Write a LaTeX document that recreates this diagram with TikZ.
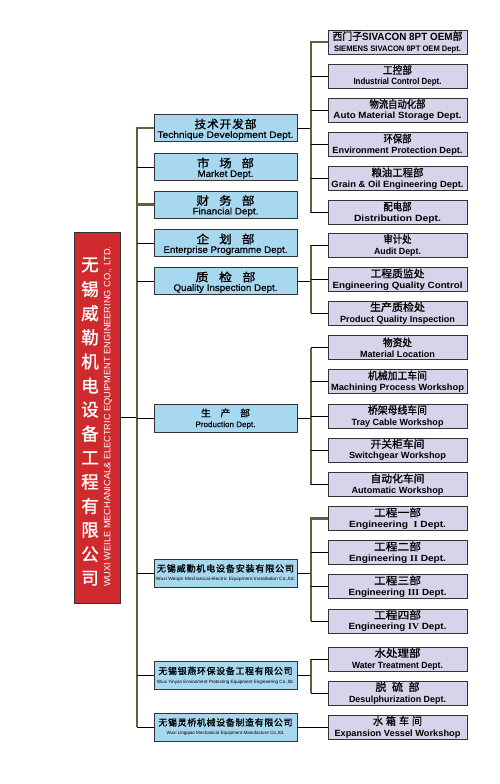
\documentclass[tikz,border=0pt]{standalone}
\usepackage{fontspec}
\usepackage{graphicx}
\setmainfont{Liberation Sans}
\newfontfamily\cjk[FakeBold=1.2]{Noto Sans CJK SC}
\newfontfamily\cjkw[FakeBold=1.2,LetterSpace=8]{Noto Sans CJK SC}
\newfontfamily\enm[FakeBold=0.6]{Liberation Sans}
\newfontfamily\rmn{Liberation Serif}
\definecolor{bluefill}{HTML}{A8D8F0}
\definecolor{lavfill}{HTML}{D7D3EA}
\definecolor{redfill}{HTML}{CF2A2E}
\definecolor{olivec}{HTML}{5B6240}
\definecolor{edgec}{HTML}{333333}
% size, width, text
\newcommand\cnx[3]{\resizebox{#2pt}{\height}{\fontsize{#1}{#1}\selectfont\cjk #3}}
\newcommand\cnw[3]{\resizebox{#2pt}{\height}{\fontsize{#1}{#1}\selectfont\cjkw #3}}
\newcommand\enx[3]{\resizebox{#2pt}{\height}{\fontsize{#1}{#1}\selectfont #3}}
\newcommand\enmx[3]{\resizebox{#2pt}{\height}{\fontsize{#1}{#1}\selectfont\enm #3}}
\newcommand\enb[3]{\resizebox{#2pt}{\height}{\fontsize{#1}{#1}\selectfont\bfseries #3}}
\newcommand\rb[4]{\cnx{10.5}{#1}{#2}\\\enb{9}{#3}{#4}}
\newcommand\mb[4]{\rule{0pt}{12.3pt}\cnw{11.5}{#1}{#2}\\\enmx{9.5}{#3}{#4}}
\begin{document}
\begin{tikzpicture}[x=1pt,y=-1pt,
  mbox/.style={draw=edgec, line width=0.9pt, fill=bluefill, minimum width=143pt,
    minimum height=27pt, inner sep=0pt, align=center, font=\fontsize{9.5}{9.5}\selectfont},
  cbox/.style={mbox, minimum height=28pt, font=\fontsize{6}{9}\selectfont},
  pbox/.style={mbox, minimum height=28pt, font=\fontsize{8}{10.5}\selectfont},
  rbox/.style={draw=edgec, line width=0.9pt, fill=lavfill, minimum width=139pt,
    minimum height=24pt, inner sep=0pt, align=center, font=\fontsize{9}{11}\selectfont},
  redbox/.style={draw=edgec, line width=0.9pt, fill=redfill, minimum width=46pt,
    minimum height=371pt, inner sep=0pt},
  vch/.style={text=white, inner sep=0pt, font=\fontsize{17.5}{18}\selectfont\cjk},
  ven/.style={text=white, inner sep=0pt, font=\fontsize{9.2}{10}\selectfont},
  bus/.style={draw=olivec, line width=2.2pt},
  link/.style={draw=black, line width=0.8pt}]
\useasboundingbox (0,0) rectangle (500,784);

% company block
\node[redbox] (co) at (97,417.5) {};
\foreach \c [count=\i] in {无,锡,威,勒,机,电,设,备,工,程,有,限,公,司}
  \node[vch] (t\i) at (90,{265+(\i-1)*24.1}) {\c};
\node[ven, rotate=90] (tname) at (108,416.7)
  {\resizebox{340pt}{\height}{WUXI WEILE MECHANICAL\& ELECTRIC EQUIPMENT ENGINEERING CO., LTD.}};

% middle column
\node[mbox] (m1) at (225.5,128) {\mb{62}{技术开发部}{136}{Technique Development Dept.}};
\node[mbox] (m2) at (225.5,167) {\mb{57}{市\hspace{0.8em}场\hspace{0.8em}部}{56}{Market Dept.}};
\node[mbox] (m3) at (225.5,204.5) {\mb{58}{财\hspace{0.8em}务\hspace{0.8em}部}{66}{Financial Dept.}};
\node[mbox] (m4) at (225.5,243) {\mb{58}{企\hspace{0.8em}划\hspace{0.8em}部}{124}{Enterprise Programme Dept.}};
\node[mbox] (m5) at (225.5,281) {\mb{60}{质\hspace{0.8em}检\hspace{0.8em}部}{104}{Quality Inspection Dept.}};
\node[pbox] (prod) at (225.5,418) {\rule{0pt}{9.4pt}\cnx{9.5}{49}{生\hspace{1em}产\hspace{1em}部}\\\enmx{8}{60}{Production Dept.}};
\node[cbox] (c1) at (225.5,573) {\cnw{9}{137}{无锡威勤机电设备安装有限公司}\\\enx{4.6}{139}{Wuxi Weiqin Mechanical-electric Equipment Installation Co.,ltd.}};
\node[cbox] (c2) at (225.5,675.5) {\cnw{9}{134}{无锡银燕环保设备工程有限公司}\\\enx{4.6}{137}{Wuxi Yinyan Envionment Protecting Equipment Engineering Co.,ltd.}};
\node[cbox] (c3) at (225.5,727) {\cnw{9}{134}{无锡灵桥机械设备制造有限公司}\\\enx{4.6}{118}{Wuxi Lingqiao Mechanical Equipment Manufacture Co.,ltd.}};

% right column
\node[rbox] (r1) at (397.5,42) {\resizebox{130pt}{\height}{\fontsize{10.5}{10.5}\selectfont{\cjk 西门子}\textbf{SIVACON 8PT OEM}{\cjk 部}}\\\enb{8}{127}{SIEMENS SIVACON 8PT OEM Dept.}};
\node[rbox] (r2) at (397.5,76) {\rb{29}{工控部}{88}{Industrial Control Dept.}};
\node[rbox] (r3) at (397.5,110) {\rb{56}{物流自动化部}{128}{Auto Material Storage Dept.}};
\node[rbox] (r4) at (397.5,144.5) {\rb{28}{环保部}{130}{Environment Protection Dept.}};
\node[rbox] (r5) at (397.5,178.5) {\rb{52}{粮油工程部}{132}{Grain \& Oil Engineering Dept.}};
\node[rbox] (r6) at (397.5,212.5) {\rb{28}{配电部}{87}{Distribution Dept.}};
\node[rbox] (q1) at (397.5,245) {\rb{28}{审计处}{47}{Audit Dept.}};
\node[rbox] (q2) at (397.5,279.5) {\rb{54}{工程质监处}{130}{Engineering Quality Control}};
\node[rbox] (q3) at (397.5,313) {\rb{55}{生产质检处}{115}{Product Quality Inspection}};
\node[rbox] (p1) at (397.5,347.5) {\rb{29}{物资处}{75}{Material Location}};
\node[rbox] (p2) at (397.5,381.5) {\rb{59}{机械加工车间}{133}{Machining Process Workshop}};
\node[rbox] (p3) at (397.5,416) {\rb{59}{桥架母线车间}{92}{Tray Cable Workshop}};
\node[rbox] (p4) at (397.5,450) {\rb{54}{开关柜车间}{97}{Switchgear Workshop}};
\node[rbox] (p5) at (397.5,484.5) {\rb{54}{自动化车间}{92}{Automatic Workshop}};
\node[rbox] (e1) at (397.5,518.5) {\rb{47}{工程一部}{97}{Engineering \ {\rmn I} Dept.}};
\node[rbox] (e2) at (397.5,552.5) {\rb{47}{工程二部}{97}{Engineering {\rmn II} Dept.}};
\node[rbox] (e3) at (397.5,586.5) {\rb{47}{工程三部}{98}{Engineering {\rmn III} Dept.}};
\node[rbox] (e4) at (397.5,621) {\rb{47}{工程四部}{98}{Engineering {\rmn IV} Dept.}};
\node[rbox] (w1) at (397.5,659) {\rb{46}{水处理部}{91}{Water Treatment Dept.}};
\node[rbox] (w2) at (397.5,693) {\rb{44}{脱\hspace{0.5em}硫\hspace{0.5em}部}{97}{Desulphurization Dept.}};
\node[rbox] (x1) at (397.5,727) {\rb{49}{水\hspace{0.3em}箱\hspace{0.3em}车\hspace{0.3em}间}{126}{Expansion Vessel Workshop}};

% buses
\coordinate (lbus) at (137,0);
\coordinate (rbus) at (311,0);
\draw[link] (co.east) -- (co.east -| lbus);
\draw[bus] (m1.west) -- (m1.west -| lbus) -- (c3.west -| lbus);
\draw[bus] (m3.west) -- (m3.west -| lbus);
\foreach \n in {m2,m4,m5,prod,c1,c2,c3} \draw[link] (\n.west -| lbus) -- (\n.west);

\draw[link] (m1.east) -- (m1.east -| rbus);
\draw[bus] (r1.west) -- (r1.west -| rbus) -- (r6.west -| rbus);
\foreach \n in {r2,r3,r4,r5,r6} \draw[link] (\n.west -| rbus) -- (\n.west);

\draw[link] (m5.east) -- (m5.east -| rbus);
\draw[bus] (q1.west -| rbus) -- (q3.west -| rbus);
\foreach \n in {q1,q2,q3} \draw[link] (\n.west -| rbus) -- (\n.west);

\draw[link] (prod.east) -- (prod.east -| rbus);
\draw[bus] (p1.west -| rbus) -- (p5.west -| rbus);
\foreach \n in {p1,p2,p3,p4,p5} \draw[link] (\n.west -| rbus) -- (\n.west);

\draw[link] (c1.east) -- (c1.east -| rbus);
\draw[bus] (e1.west) -- (e1.west -| rbus) -- (e4.west -| rbus);
\foreach \n in {e2,e3,e4} \draw[link] (\n.west -| rbus) -- (\n.west);

\draw[link] (c2.east) -- (c2.east -| rbus);
\draw[bus] (w1.west -| rbus) -- (w2.west -| rbus);
\foreach \n in {w1,w2} \draw[link] (\n.west -| rbus) -- (\n.west);

\draw[link] (c3.east) -- (x1.west);
\end{tikzpicture}
\end{document}
